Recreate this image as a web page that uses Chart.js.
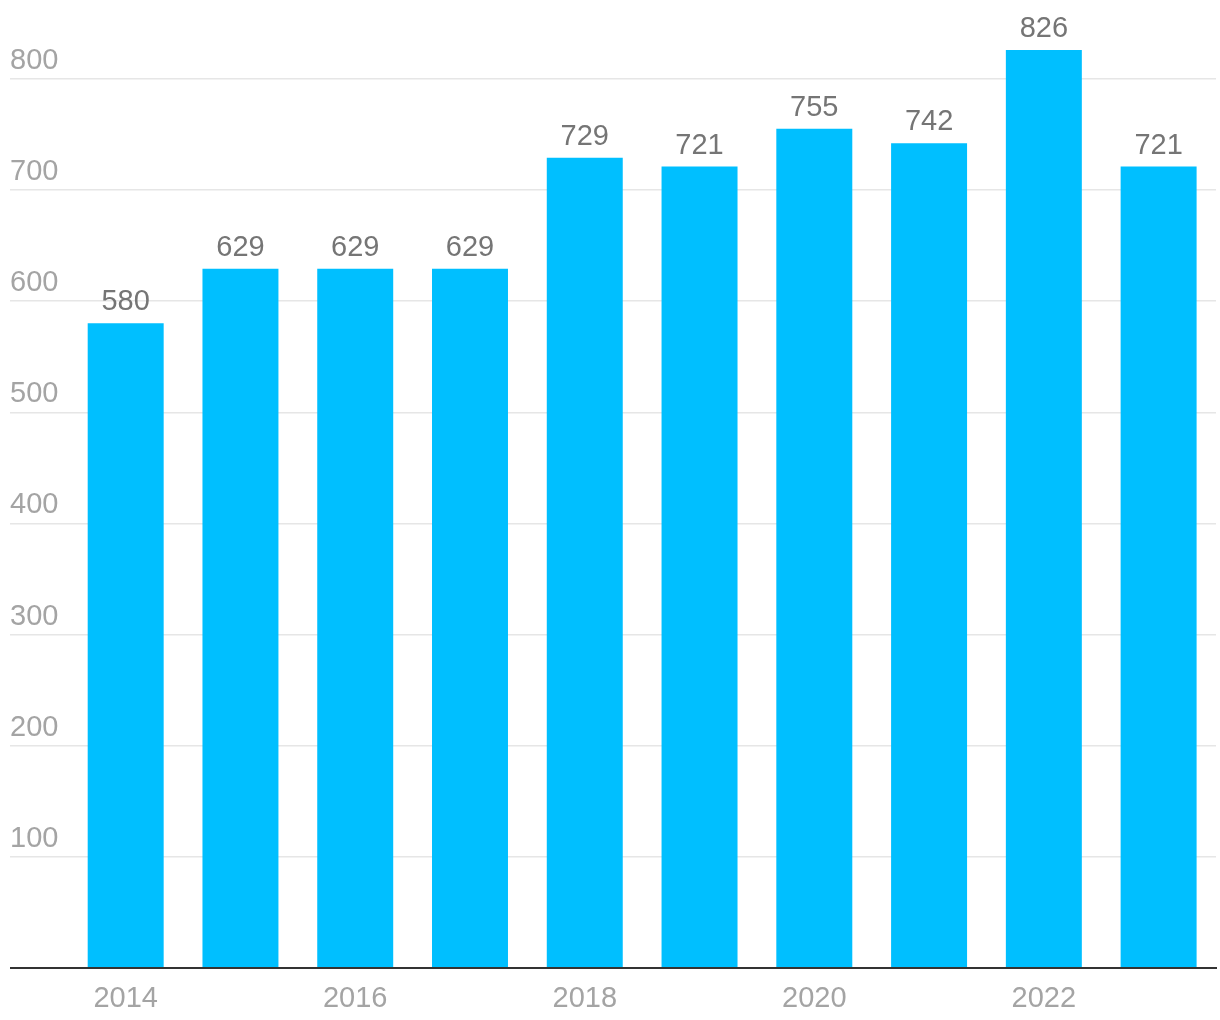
<!DOCTYPE html>
<html>
<head>
<meta charset="utf-8">
<script src="https://cdn.jsdelivr.net/npm/chart.js@4/dist/chart.umd.min.js"></script>
<style>
  html, body { margin: 0; padding: 0; background: #fff; }
  #wrap { width: 1220px; height: 1020px; position: relative; }
</style>
</head>
<body>
<div id="wrap"><canvas id="barChart"></canvas></div>
<script>
// chart data
const years = ['2014', '2015', '2016', '2017', '2018', '2019', '2020', '2021', '2022', '2023'];
const counts = [580, 629, 629, 629, 729, 721, 755, 742, 826, 721];
const yTicks = [0, 100, 200, 300, 400, 500, 600, 700, 800];

const FONT = '"Liberation Sans", Arial, sans-serif';

// value labels above each bar
const barLabels = {
    id: 'barLabels',
    afterDatasetsDraw(chart) {
        const ctx = chart.ctx;
        const meta = chart.getDatasetMeta(0);
        ctx.save();
        ctx.font = '29px ' + FONT;
        ctx.fillStyle = '#757575';
        ctx.textAlign = 'center';
        ctx.textBaseline = 'alphabetic';
        meta.data.forEach((bar, i) => {
            ctx.fillText(String(counts[i]), bar.x, bar.y - 13);
        });
        ctx.restore();
    }
};

new Chart(document.getElementById('barChart'), {
    type: 'bar',
    data: {
        labels: years,
        datasets: [{
            data: counts,
            backgroundColor: '#00bfff',
            borderWidth: 0,
            categoryPercentage: 1,
            barPercentage: 0.662
        }]
    },
    options: {
        responsive: true,
        maintainAspectRatio: false,
        animation: false,
        layout: { padding: { left: 10, right: 4, top: 1, bottom: 0 } },
        plugins: {
            legend: { display: false },
            tooltip: { enabled: false }
        },
        scales: {
            x: {
                z: 1,
                grid: { display: false, drawTicks: false },
                border: { display: true, color: '#333', width: 2 },
                ticks: {
                    padding: 14,
                    color: '#a4a4a4',
                    font: { family: FONT, size: 29 },
                    maxRotation: 0,
                    autoSkip: false,
                    callback: function (value, index) {
                        return index % 2 === 0 ? years[index] : '';
                    }
                },
                afterFit(scale) {
                    scale.height = 52;
                    scale.paddingLeft = 0;
                    scale.paddingRight = 0;
                }
            },
            y: {
                min: 0,
                max: 870,
                afterBuildTicks(scale) {
                    scale.ticks = yTicks.map(v => ({ value: v }));
                },
                border: { display: false },
                grid: {
                    color: ctx => (ctx.tick && ctx.tick.value === 0 ? '#333' : '#e6e6e6'),
                    lineWidth: ctx => (ctx.tick && ctx.tick.value === 0 ? 2 : 1.5),
                    drawTicks: true,
                    tickLength: 58.3
                },
                ticks: {
                    crossAlign: 'far',
                    labelOffset: -18,
                    padding: 0,
                    color: '#a4a4a4',
                    font: { family: FONT, size: 29 },
                    callback: v => (v === 0 ? '' : String(v))
                },
                afterFit(scale) {
                    scale.width = 58.3;
                    scale.paddingTop = 0;
                    scale.paddingBottom = 0;
                }
            }
        }
    },
    plugins: [barLabels]
});
</script>
</body>
</html>
